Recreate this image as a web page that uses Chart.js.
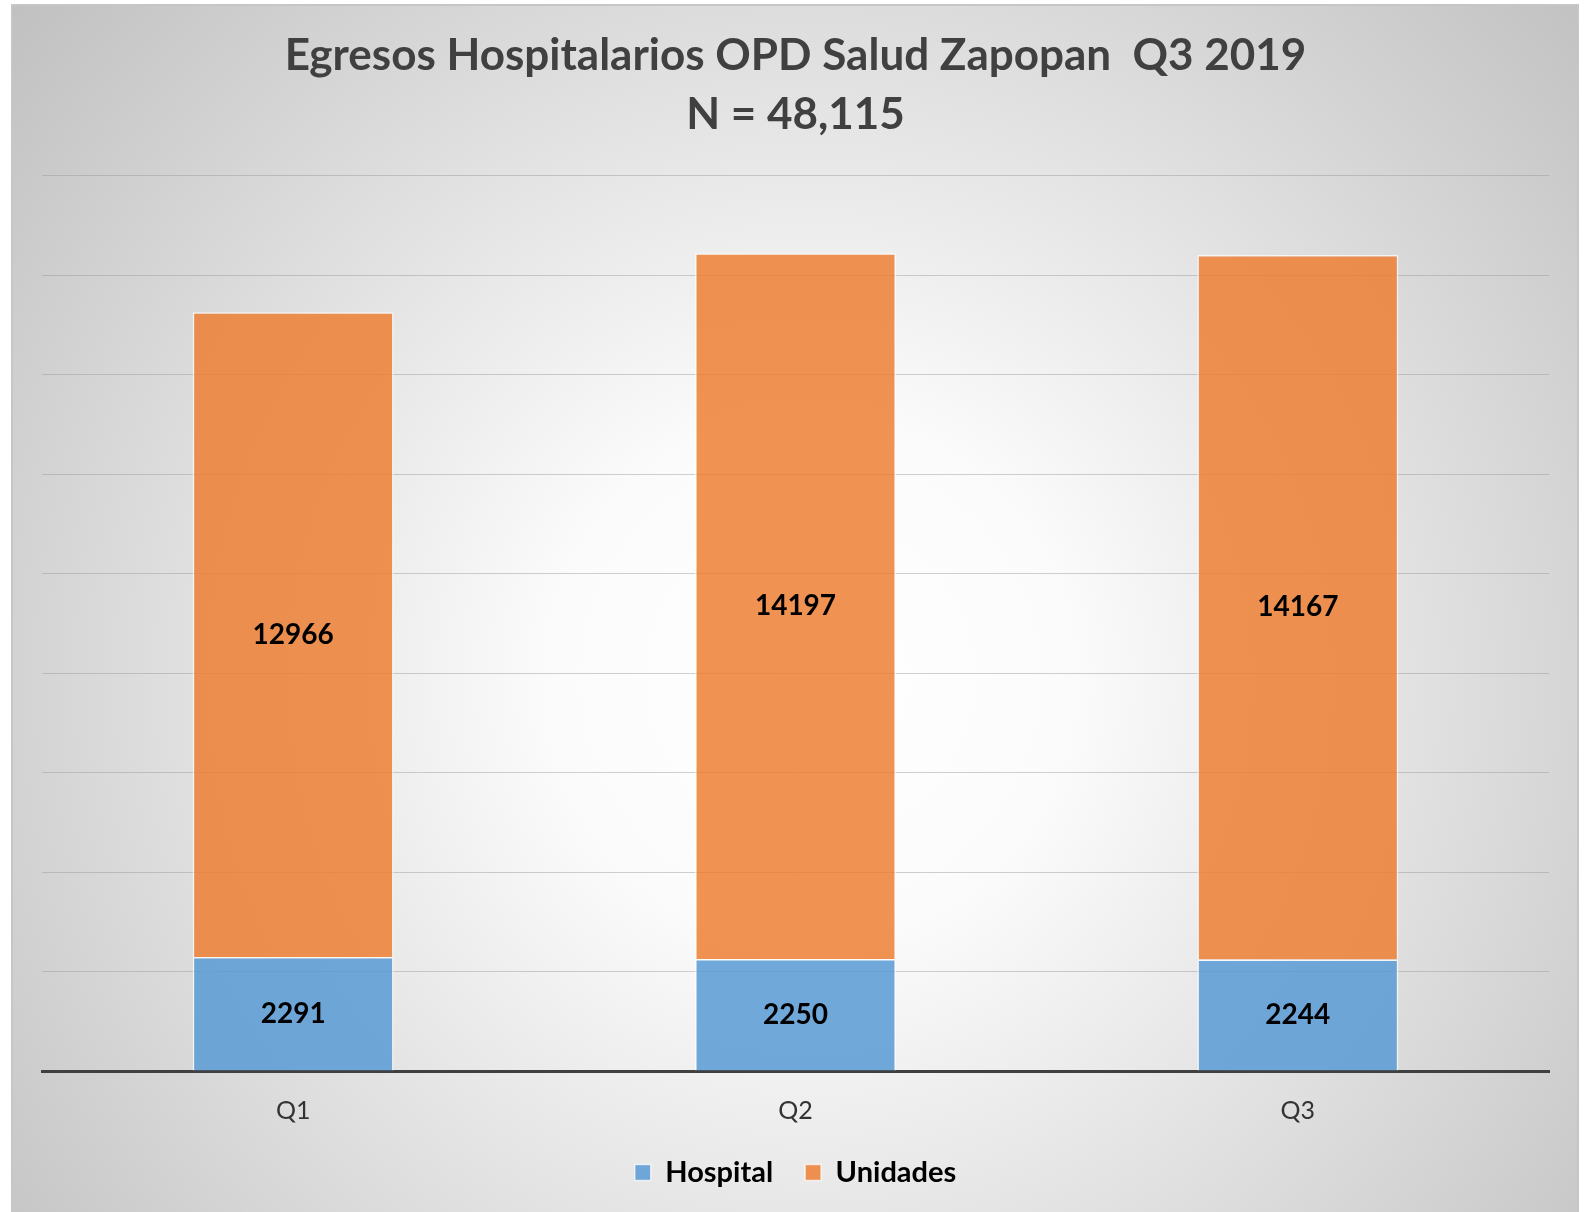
<!DOCTYPE html>
<html>
<head>
<meta charset="utf-8">
<script src="https://cdn.jsdelivr.net/npm/chart.js@4"></script>
<style>
html,body{margin:0;padding:0;background:#fff;}
#wrap{position:absolute;left:0;top:0;width:1592px;height:1212px;}
</style>
</head>
<body>
<div id="wrap"><canvas id="c"></canvas></div>
<script>
const categories = ['Q1', 'Q2', 'Q3'];
const hospital = [2291, 2250, 2244];
const unidades = [12966, 14197, 14167];
const titleLines = ['Egresos Hospitalarios OPD Salud Zapopan  Q3 2019', 'N = 48,115'];
const yMax = 18000;
const yStep = 2000;

const FONT = 'Lato, Calibri, "Liberation Sans", sans-serif';

const bgPlugin = {
  id: 'bg',
  beforeDraw(chart) {
    const ctx = chart.ctx;
    ctx.save();
    ctx.fillStyle = '#ffffff';
    ctx.fillRect(0, 0, chart.width, chart.height);
    const x0 = 12, y0 = 5, x1 = 1578, y1 = 1212;
    const g = ctx.createRadialGradient(810, 680, 0, 810, 680, 1050);
    g.addColorStop(0, '#ffffff');
    g.addColorStop(0.25, '#fbfbfb');
    g.addColorStop(1, '#c0c0c0');
    ctx.fillStyle = g;
    ctx.fillRect(x0, y0, x1 - x0, y1 - y0);
    ctx.strokeStyle = '#c6c6c6';
    ctx.lineWidth = 2;
    ctx.strokeRect(x0, y0, x1 - x0, y1 - y0 + 4);
    ctx.restore();
  }
};

const labelPlugin = {
  id: 'vals',
  afterDatasetsDraw(chart) {
    const ctx = chart.ctx;
    ctx.save();
    ctx.font = 'bold 28px ' + FONT;
    ctx.fillStyle = '#000000';
    ctx.textAlign = 'center';
    ctx.textBaseline = 'middle';
    chart.data.datasets.forEach((ds, di) => {
      const meta = chart.getDatasetMeta(di);
      meta.data.forEach((el, i) => {
        const p = el.getProps(['x', 'y', 'base'], true);
        ctx.fillText(String(ds.data[i]), p.x, (p.y + p.base) / 2);
      });
    });
    ctx.restore();
  }
};

new Chart(document.getElementById('c'), {
  type: 'bar',
  data: {
    labels: categories,
    datasets: [
      {
        label: 'Hospital',
        data: hospital,
        backgroundColor: 'rgba(91,155,213,0.86)',
        borderColor: 'rgba(255,255,255,0.7)',
        borderWidth: 1.5,
        categoryPercentage: 1,
        barPercentage: 0.4
      },
      {
        label: 'Unidades',
        data: unidades,
        backgroundColor: 'rgba(237,125,49,0.84)',
        borderColor: 'rgba(255,255,255,0.7)',
        borderWidth: 1.5,
        categoryPercentage: 1,
        barPercentage: 0.4
      }
    ]
  },
  options: {
    responsive: true,
    maintainAspectRatio: false,
    animation: false,
    layout: { padding: { left: 42, right: 43, top: 0, bottom: 15 } },
    plugins: {
      title: {
        display: true,
        text: titleLines,
        color: '#404040',
        font: { family: FONT, size: 44, weight: 'bold', lineHeight: 1.34 },
        padding: { top: 26, bottom: 32 }
      },
      legend: {
        display: true,
        position: 'bottom',
        labels: {
          color: '#000000',
          font: { family: FONT, size: 29, weight: 'bold' },
          boxWidth: 16,
          boxHeight: 16,
          padding: 32
        }
      },
      tooltip: { enabled: false }
    },
    scales: {
      x: {
        stacked: true,
        offset: true,
        grid: { display: false, drawTicks: false },
        border: { display: true, color: '#404040', width: 3 },
        ticks: { color: '#333333', font: { family: FONT, size: 25 }, padding: 25 },
        afterFit(scale) { scale.height = 55; }
      },
      y: {
        stacked: true,
        min: 0,
        max: yMax,
        ticks: { display: false, stepSize: yStep },
        grid: { color: 'rgba(150,150,150,0.45)', lineWidth: 1, drawTicks: false },
        border: { display: false }
      }
    }
  },
  plugins: [bgPlugin, labelPlugin]
});
</script>
</body>
</html>
